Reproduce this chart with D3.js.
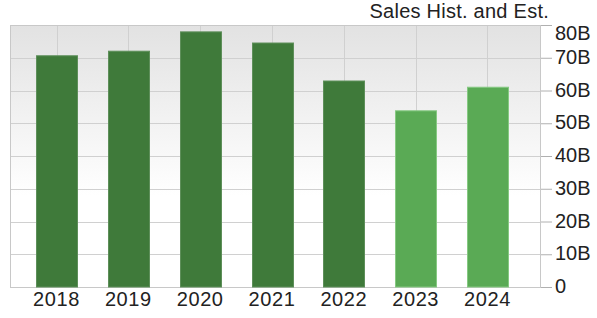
<!DOCTYPE html>
<html>
<head>
<meta charset="utf-8">
<script src="https://cdn.jsdelivr.net/npm/d3@7"></script>
<style>
  body { margin: 0; background: #fff; }
  svg { display: block; font-family: "Liberation Sans", Arial, sans-serif; }
</style>
</head>
<body>
<svg id="chart" width="597" height="318"></svg>
<script>
// data (billions)
var years = ['2018', '2019', '2020', '2021', '2022', '2023', '2024'];
var sales = [70.6, 72, 77.9, 74.5, 62.9, 53.8, 61];
var estimate = [false, false, false, false, false, true, true];
var yTicks = [0, 10, 20, 30, 40, 50, 60, 70, 80];

var svg = d3.select('#chart');
var plot = {left: 10, right: 541, top: 25, bottom: 287};

var x = d3.scaleBand()
	.domain(years)
	.range([20.6, 523.4])
	.paddingInner(0.43)
	.paddingOuter(0.215);

var y = d3.scaleLinear()
	.domain([0, 80])
	.range([plot.bottom, plot.top]);

// background gradient
var grad = svg.append('defs').append('linearGradient')
	.attr('id', 'bg')
	.attr('x1', 0).attr('y1', 0).attr('x2', 0).attr('y2', 1);
grad.append('stop').attr('offset', '0%').attr('stop-color', '#e2e2e2');
grad.append('stop').attr('offset', '65%').attr('stop-color', '#ffffff');
grad.append('stop').attr('offset', '100%').attr('stop-color', '#ffffff');

svg.append('rect')
	.attr('x', plot.left)
	.attr('y', plot.top)
	.attr('width', plot.right - plot.left)
	.attr('height', plot.bottom - plot.top)
	.attr('fill', 'url(#bg)');

// grid
var grid = svg.append('g').attr('stroke', '#d0d0d0').attr('stroke-width', 1);
grid.selectAll('.hgrid')
	.data(yTicks)
	.enter().append('line')
	.attr('x1', plot.left).attr('x2', plot.right)
	.attr('y1', function(d) { return Math.round(y(d)) + 0.5; })
	.attr('y2', function(d) { return Math.round(y(d)) + 0.5; });
grid.selectAll('.vgrid')
	.data(years)
	.enter().append('line')
	.attr('y1', plot.top).attr('y2', plot.bottom)
	.attr('x1', function(d) { return Math.round(x(d) + x.bandwidth() / 2) + 0.5; })
	.attr('x2', function(d) { return Math.round(x(d) + x.bandwidth() / 2) + 0.5; });

// frame
svg.append('rect')
	.attr('x', plot.left + 0.5)
	.attr('y', plot.top + 0.5)
	.attr('width', plot.right - plot.left - 1)
	.attr('height', plot.bottom - plot.top)
	.attr('fill', 'none')
	.attr('stroke', '#c8c8c8');

// bars
svg.append('g').selectAll('rect')
	.data(years)
	.enter().append('rect')
	.attr('x', function(d) { return Math.round(x(d)) + 0.5; })
	.attr('y', function(d, i) { return y(sales[i]); })
	.attr('width', Math.round(x.bandwidth()))
	.attr('height', function(d, i) { return plot.bottom - y(sales[i]); })
	.attr('fill', function(d, i) { return estimate[i] ? '#5aaa55' : '#3f7a3a'; })
	.attr('stroke', function(d, i) { return estimate[i] ? '#86c982' : '#5e8f5a'; })
	.attr('stroke-width', 1);

// y axis on the right
var yAxis = svg.append('g')
	.attr('transform', 'translate(' + plot.right + ',0)')
	.call(d3.axisRight(y).tickValues(yTicks).tickSize(11).tickPadding(3)
		.tickFormat(function(d) { return d === 0 ? '0' : d + 'B'; }));
yAxis.select('.domain').remove();
yAxis.selectAll('.tick line').attr('stroke', '#b0b0b0');
yAxis.selectAll('.tick text')
	.attr('fill', '#222')
	.style('font-size', '20px')
	.attr('dy', function(d) { return d === 80 ? '0.72em' : '0.28em'; });

// x axis labels
svg.append('g').selectAll('text')
	.data(years)
	.enter().append('text')
	.attr('x', function(d) { return x(d) + x.bandwidth() / 2; })
	.attr('y', 306)
	.attr('text-anchor', 'middle')
	.attr('fill', '#222')
	.style('font-size', '20px')
	.style('letter-spacing', '0.6px')
	.text(function(d) { return d; });

// title
svg.append('text')
	.attr('x', 549)
	.attr('y', 18)
	.attr('text-anchor', 'end')
	.attr('fill', '#222')
	.style('font-size', '20px')
	.style('letter-spacing', '0.25px')
	.text('Sales Hist. and Est.');
</script>
</body>
</html>
